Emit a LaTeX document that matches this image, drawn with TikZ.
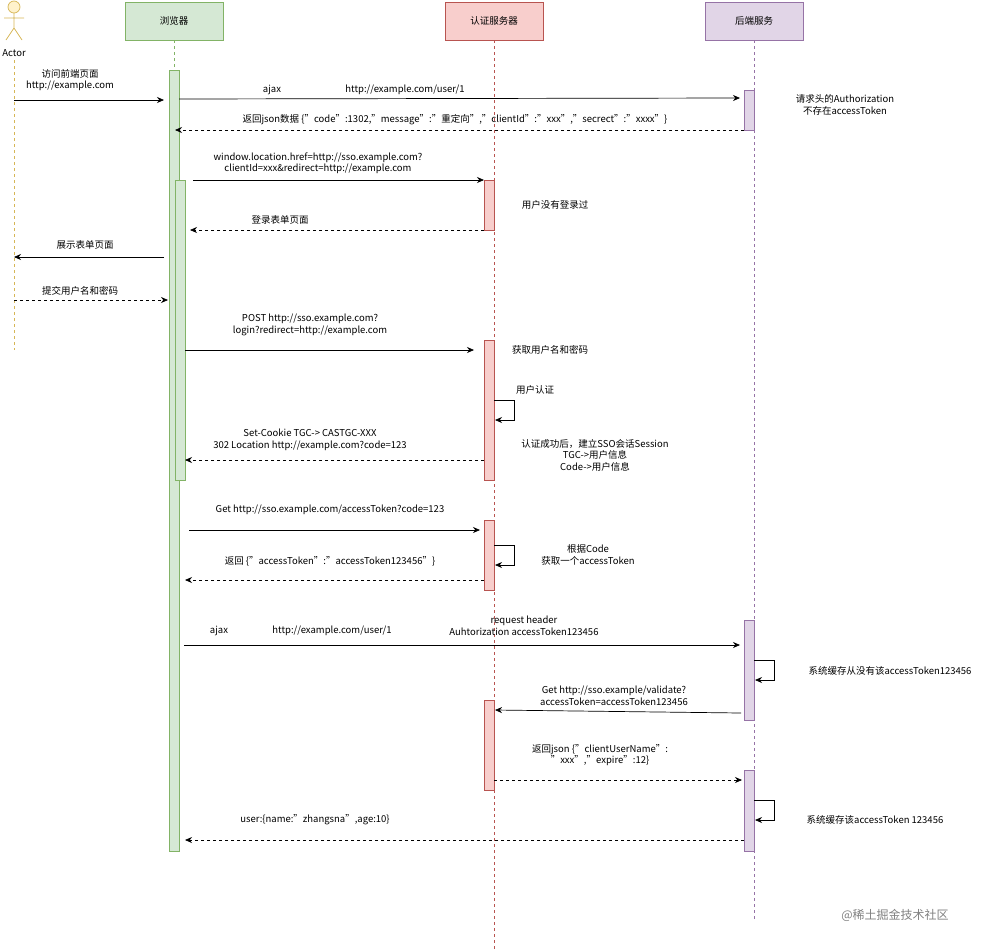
\documentclass[tikz,border=0pt]{standalone}
\usepackage{fontspec}
\setmainfont{Noto Sans CJK SC}
\usetikzlibrary{arrows.meta}
\definecolor{gf}{HTML}{D5E8D4}\definecolor{gd}{HTML}{82B366}
\definecolor{rf}{HTML}{F8CECC}\definecolor{rd}{HTML}{B85450}
\definecolor{pf}{HTML}{E1D5E7}\definecolor{pd}{HTML}{9673A6}
\definecolor{yf}{HTML}{FFF2CC}\definecolor{yd}{HTML}{D6B656}
\begin{document}
\begin{tikzpicture}[x=1pt,y=-1pt,font=\fontsize{9.5}{11.5}\selectfont,
 msg/.style={-{Stealth[length=7pt,width=6pt]},line width=0.7pt},
 ret/.style={msg,dash pattern=on 3pt off 3pt},
 lbl/.style={align=center,inner sep=0pt},
 life/.style={dash pattern=on 3pt off 3pt,line width=0.5pt},
 head/.style={draw,minimum width=98pt,minimum height=38pt,inner sep=0pt},
 act/.style={draw,inner sep=0pt,minimum width=10pt,anchor=north}]
\useasboundingbox (0,0) rectangle (1000,951);
% lifelines
\draw[life,yd] (14,60) -- (14,350);
\draw[life,gd] (174,40) -- (174,851);
\draw[life,rd] (494,40) -- (494,951);
\draw[life,pd] (754,40) -- (754,920);
% heads
\node[head,fill=gf,draw=gd] (br) at (174,21) {浏览器};
\node[head,fill=rf,draw=rd] (au) at (494,21) {认证服务器};
\node[head,fill=pf,draw=pd] (be) at (754,21) {后端服务};
% actor
\begin{scope}[yd,fill=yf,line width=0.7pt]
\filldraw (14,7) circle (6);
\draw (14,13) -- (14,28) (4,18) -- (24,18) (14,28) -- (6,40) (14,28) -- (22,40);
\end{scope}
\node[lbl] (actor) at (14,53) {Actor};
% activations
\node[act,fill=gf,draw=gd,minimum height=781pt] (b1) at (174,70) {};
\node[act,fill=gf,draw=gd,minimum height=300pt] (b2) at (180,180) {};
\node[act,fill=rf,draw=rd,minimum height=50pt] (a1) at (489,180) {};
\node[act,fill=rf,draw=rd,minimum height=140pt] (a2) at (489,340) {};
\node[act,fill=rf,draw=rd,minimum height=70pt] (a3) at (489,520) {};
\node[act,fill=rf,draw=rd,minimum height=90pt] (a4) at (489,700) {};
\node[act,fill=pf,draw=pd,minimum height=40pt] (e1) at (749,90) {};
\node[act,fill=pf,draw=pd,minimum height=100pt] (e2) at (749,620) {};
\node[act,fill=pf,draw=pd,minimum height=81pt] (e3) at (749,770) {};
% coordinates
\coordinate (p1a) at (14,100); \coordinate (p1b) at (164,100);
\coordinate (p2a) at (179,99); \coordinate (p2b) at (740,98);
\coordinate (p3a) at (744,130); \coordinate (p3b) at (175,130);
\coordinate (p4a) at (193,180); \coordinate (p4b) at (484,180);
\coordinate (p5a) at (484,230); \coordinate (p5b) at (190,230);
\coordinate (p6a) at (164,257); \coordinate (p6b) at (14,257);
\coordinate (p7a) at (14,300); \coordinate (p7b) at (168,300);
\coordinate (p8a) at (185,350); \coordinate (p8b) at (474,350);
\coordinate (p10a) at (484,460); \coordinate (p10b) at (185,460);
\coordinate (p11a) at (189,530); \coordinate (p11b) at (480,530);
\coordinate (p13a) at (484,580); \coordinate (p13b) at (185,580);
\coordinate (p14a) at (184,645); \coordinate (p14b) at (740,645);
\coordinate (p16a) at (741,713); \coordinate (p16b) at (495,710);
\coordinate (p17a) at (494,780); \coordinate (p17b) at (742,780);
\coordinate (p19a) at (744,840); \coordinate (p19b) at (185,840);
\draw[msg] (p1a) -- (p1b);
\draw[msg] (p2a) -- (p2b);
\draw[ret] (p3a) -- (p3b);
\draw[msg] (p4a) -- (p4b);
\draw[ret] (p5a) -- (p5b);
\draw[msg] (p6a) -- (p6b);
\draw[ret] (p7a) -- (p7b);
\draw[msg] (p8a) -- (p8b);
\draw[msg] (494,400) -- (514,400) -- (514,420) -- (495,420);
\draw[ret] (p10a) -- (p10b);
\draw[msg] (p11a) -- (p11b);
\draw[msg] (494,545) -- (514,545) -- (514,565) -- (495,565);
\draw[ret] (p13a) -- (p13b);
\draw[msg] (p14a) -- (p14b);
\draw[msg] (754,660) -- (774,660) -- (774,680) -- (755,680);
\draw[msg] (p16a) -- (p16b);
\draw[ret] (p17a) -- (p17b);
\draw[msg] (754,800) -- (774,800) -- (774,820) -- (755,820);
\draw[ret] (p19a) -- (p19b);
% labels
\node[lbl] (l1) at (70,80) {访问前端页面\\http://example.com};
\node[lbl] (l2) at (272,90) {ajax};
\node[lbl] (l2b) at (405,90) {http://example.com/user/1};
\node[lbl] (l3) at (455,120) {返回json数据 \{"code":1302,"message":"重定向","clientId":"xxx","secrect":"xxxx"\}};
\node[lbl] (l4) at (318,163) {window.location.href=http://sso.example.com?\\clientId=xxx\&redirect=http://example.com};
\node[lbl] (l5) at (280,220) {登录表单页面};
\node[lbl] (l6) at (85,245) {展示表单页面};
\node[lbl] (l7) at (80,291) {提交用户名和密码};
\node[lbl] (l8) at (310,325) {POST http://sso.example.com?\\login?redirect=http://example.com};
\node[lbl] (l9) at (535,390) {用户认证};
\node[lbl] (l10) at (310,440) {Set-Cookie TGC-> CASTGC-XXX\\302 Location http://example.com?code=123};
\node[lbl] (r1) at (555,205) {用户没有登录过};
\node[lbl] (r2) at (550,350) {获取用户名和密码};
\node[lbl] (r3) at (595,455) {认证成功后，建立SSO会话Session\\TGC->用户信息\\Code->用户信息};
\node[lbl] (l11) at (330,510) {Get http://sso.example.com/accessToken?code=123};
\node[lbl] (l12) at (588,555) {根据Code\\获取一个accessToken};
\node[lbl] (l13) at (330,561) {返回 \{"accessToken":"accessToken123456"\}};
\node[lbl] (l14) at (219,631) {ajax};
\node[lbl] (l14b) at (332,631) {http://example.com/user/1};
\node[lbl] (l14c) at (524,626) {request header\\Auhtorization accessToken123456};
\node[lbl] (l15) at (890,671) {系统缓存从没有该accessToken123456};
\node[lbl] (l16) at (614,696) {Get http://sso.example/validate?\\accessToken=accessToken123456};
\node[lbl] (l17) at (600,755) {返回json \{"clientUserName":\\"xxx","expire":12\}};
\node[lbl] (l18) at (875,820) {系统缓存该accessToken 123456};
\node[lbl] (l19) at (315,820) {user:\{name:"zhangsna",age:10\}};
\node[lbl] (rb) at (845,105) {请求头的Authorization\\不存在accessToken};
\node[lbl,text=gray,font=\fontsize{12}{14}\selectfont] (wm) at (895,915) {@稀土掘金技术社区};
\end{tikzpicture}
\end{document}
